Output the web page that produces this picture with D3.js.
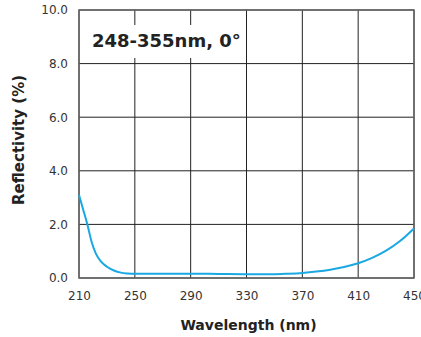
<!DOCTYPE html>
<html>
<head>
<meta charset="utf-8">
<script src="https://cdn.jsdelivr.net/npm/d3@7"></script>
<style>
  body { margin: 0; background: #fff; }
  svg { display: block; }
</style>
</head>
<body>
<svg id="drawing_region"></svg>
<script>
// data
const wavelengths = [210, 213, 216, 219, 222, 226, 230, 235, 240, 245, 250, 270, 290, 310, 330, 350, 360, 370, 380, 390, 400, 410, 420, 430, 440, 450];
const reflectivity = [3.1, 2.55, 2.0, 1.35, 0.92, 0.6, 0.42, 0.28, 0.2, 0.17, 0.16, 0.16, 0.16, 0.15, 0.14, 0.14, 0.16, 0.19, 0.24, 0.31, 0.41, 0.55, 0.75, 1.02, 1.38, 1.85];
const xTicks = [210, 250, 290, 330, 370, 410, 450];
const yTicks = [0, 2, 4, 6, 8, 10];
const titleText = "248-355nm, 0°";

const width = 421, height = 337;
const margin = { top: 10, right: 7, bottom: 59, left: 79 };
const iw = width - margin.left - margin.right;
const ih = height - margin.top - margin.bottom;

const svg = d3.select('#drawing_region')
    .attr('width', width)
    .attr('height', height);

const g = svg.append('g')
    .attr('transform', `translate(${margin.left},${margin.top})`);

const x = d3.scaleLinear().domain([210, 450]).range([0, iw]);
const y = d3.scaleLinear().domain([0, 10]).range([ih, 0]);

// grid
g.selectAll('.vgrid')
    .data(xTicks)
    .enter()
    .append('line')
    .attr('x1', d => x(d)).attr('x2', d => x(d))
    .attr('y1', 0).attr('y2', ih)
    .attr('stroke', '#222')
    .attr('stroke-width', 1);

g.selectAll('.hgrid')
    .data(yTicks)
    .enter()
    .append('line')
    .attr('x1', 0).attr('x2', iw)
    .attr('y1', d => y(d)).attr('y2', d => y(d))
    .attr('stroke', '#222')
    .attr('stroke-width', 1);

// frame
g.append('rect')
    .attr('x', 0).attr('y', 0)
    .attr('width', iw).attr('height', ih)
    .attr('fill', 'none')
    .attr('stroke', '#666')
    .attr('stroke-width', 1.5);

// title box
g.append('rect')
    .attr('x', 1).attr('y', 15)
    .attr('width', 164).attr('height', 33)
    .attr('fill', '#fff');

g.append('text')
    .attr('x', 13).attr('y', 37)
    .style('font-family', '"DejaVu Sans", sans-serif')
    .style('font-weight', 'bold')
    .style('font-size', '18px')
    .attr('fill', '#222')
    .text(titleText);

// curve
const line = d3.line()
    .x((d, i) => x(wavelengths[i]))
    .y(d => y(d))
    .curve(d3.curveMonotoneX);

g.append('path')
    .datum(reflectivity)
    .attr('d', line)
    .attr('fill', 'none')
    .attr('stroke', '#1aa8e2')
    .attr('stroke-width', 2);

// axes labels
const xAxis = d3.axisBottom(x).tickValues(xTicks).tickSize(0).tickPadding(13).tickFormat(d3.format('d'));
const yAxis = d3.axisLeft(y).tickValues(yTicks).tickSize(0).tickPadding(11).tickFormat(d3.format('.1f'));

const xg = g.append('g').attr('transform', `translate(0,${ih})`).call(xAxis);
const yg = g.append('g').call(yAxis);
[xg, yg].forEach(a => {
    a.select('.domain').remove();
    a.selectAll('text')
        .style('font-family', '"DejaVu Sans", sans-serif')
        .style('font-size', '12px')
        .attr('fill', '#333');
});

svg.append('text')
    .attr('x', margin.left + iw / 2 + 2).attr('y', 330)
    .attr('text-anchor', 'middle')
    .style('font-family', '"DejaVu Sans", sans-serif')
    .style('font-weight', 'bold')
    .style('font-size', '14px')
    .attr('fill', '#222')
    .text('Wavelength (nm)');

svg.append('text')
    .attr('transform', `translate(24,140) rotate(-90)`)
    .attr('text-anchor', 'middle')
    .style('font-family', '"DejaVu Sans", sans-serif')
    .style('font-weight', 'bold')
    .style('font-size', '15px')
    .attr('fill', '#222')
    .text('Reflectivity (%)');
</script>
</body>
</html>
